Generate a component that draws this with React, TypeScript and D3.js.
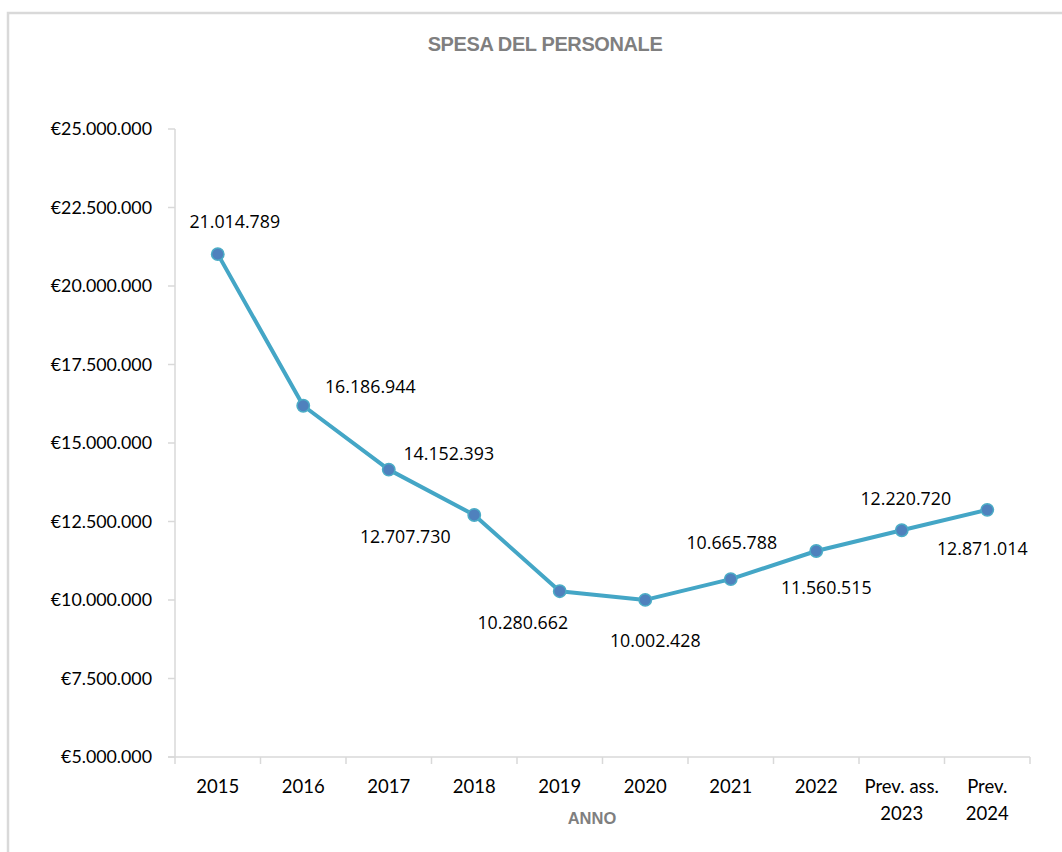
import React from 'react';
import * as d3 from 'd3';

const categories = ['2015', '2016', '2017', '2018', '2019', '2020', '2021', '2022', 'Prev. ass.\n2023', 'Prev.\n2024'];
const spesa = [21014789, 16186944, 14152393, 12707730, 10280662, 10002428, 10665788, 11560515, 12220720, 12871014];
const yTicks = [5000000, 7500000, 10000000, 12500000, 15000000, 17500000, 20000000, 22500000, 25000000];

// where each data label sits relative to its point (as placed by hand in the original)
const labelOffsets: [number, number][] = [
  [17, -32], [67, -19], [60, -16], [-69, 22], [-37, 32],
  [10, 41], [1, -36], [10, 37], [4, -31], [-5, 39],
];

const it = d3.formatLocale({ decimal: ',', thousands: '.', grouping: [3], currency: ['€', ''] });
const fmtMoney = it.format('$,.0f');
const fmtNum = it.format(',.0f');

const W = 1062;
const H = 852;
const margin = { left: 175, right: 32, top: 129, bottom: 95 };

const App: React.FC = () => {
  const x = d3.scaleBand<string>().domain(categories).range([margin.left, W - margin.right]).padding(0);
  const y = d3.scaleLinear().domain([5000000, 25000000]).range([H - margin.bottom, margin.top]);
  const cx = (c: string) => (x(c) as number) + x.bandwidth() / 2;

  const line = d3.line<number>()
    .x((_, i) => cx(categories[i]))
    .y(d => y(d));

  const axisColor = '#d9d9d9';
  const y0 = y(5000000);

  return (
    <svg width={W} height={H} style={{ position: 'absolute', left: 0, top: 0, background: '#fff' }}>
      {/* chart frame */}
      <path d={`M8,${H} L8,13 L${W},13`} fill="none" stroke={axisColor} strokeWidth={2.5} />

      <text x={545} y={51} textAnchor="middle" fontFamily="Liberation Sans, Arial, sans-serif"
        fontWeight="bold" fontSize={20} fill="#7f7f7f" letterSpacing={-0.4}>
        SPESA DEL PERSONALE
      </text>

      {/* y axis */}
      <line x1={margin.left} x2={margin.left} y1={y(25000000)} y2={y0} stroke={axisColor} strokeWidth={1.5} />
      {yTicks.map(t => (
        <g key={t}>
          <line x1={margin.left - 7} x2={margin.left} y1={y(t)} y2={y(t)} stroke={axisColor} strokeWidth={1.5} />
          <text x={152} y={y(t)} dy="0.35em" textAnchor="end" fontFamily="Lato, sans-serif" fontSize={17.8} fill="#000">
            {fmtMoney(t)}
          </text>
        </g>
      ))}

      {/* x axis */}
      <line x1={margin.left - 7} x2={W - margin.right} y1={y0} y2={y0} stroke={axisColor} strokeWidth={1.5} />
      {[...categories.map(c => x(c) as number), W - margin.right].map((p, i) => (
        <line key={i} x1={p} x2={p} y1={y0} y2={y0 + 7} stroke={axisColor} strokeWidth={1.5} />
      ))}
      {categories.map(c => (
        <text key={c} x={cx(c)} y={787} textAnchor="middle" fontFamily="Lato, sans-serif" fontSize={18.5} fill="#000">
          {c.split('\n').map((part, j) => (
            <tspan key={j} x={cx(c)} dy={j === 0 ? '0.35em' : 27}>{part}</tspan>
          ))}
        </text>
      ))}
      <text x={592} y={824} textAnchor="middle" fontFamily="Liberation Sans, Arial, sans-serif"
        fontWeight="bold" fontSize={16.5} fill="#7f7f7f">
        ANNO
      </text>

      {/* series */}
      <path d={line(spesa) as string} fill="none" stroke="#44a6c6" strokeWidth={4} strokeLinejoin="round" />
      {spesa.map((v, i) => (
        <circle key={i} cx={cx(categories[i])} cy={y(v)} r={6.2} fill="#4f81bd" stroke="#4bacc6" strokeWidth={1.5} />
      ))}
      {spesa.map((v, i) => (
        <text key={'l' + i} x={cx(categories[i]) + labelOffsets[i][0]} y={y(v) + labelOffsets[i][1]} dy="0.35em"
          textAnchor="middle" fontFamily="Open Sans, sans-serif" fontSize={17.8} fill="#000">
          {fmtNum(v)}
        </text>
      ))}
    </svg>
  );
};

export default App;
